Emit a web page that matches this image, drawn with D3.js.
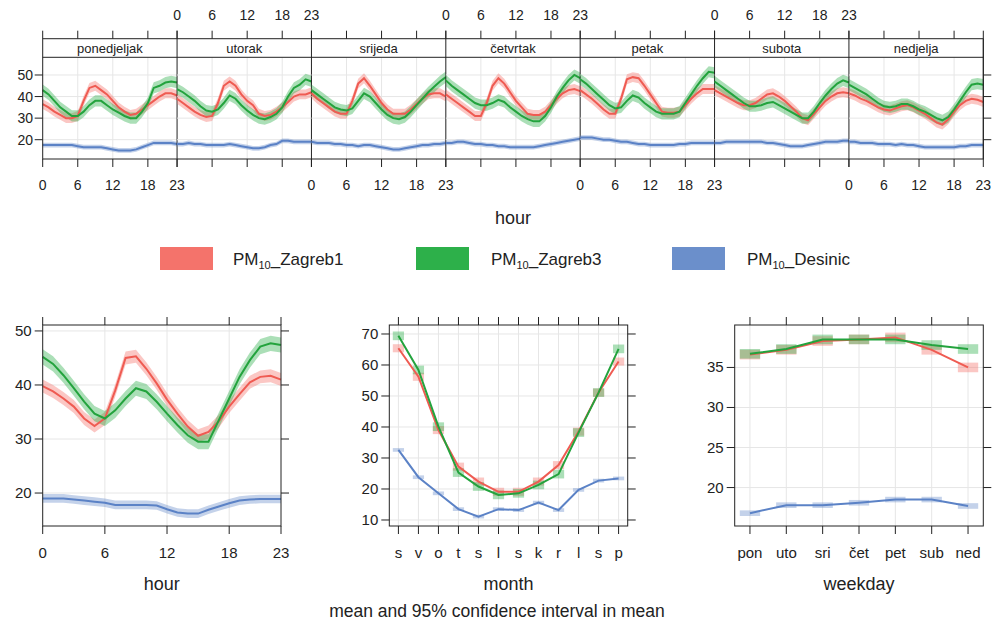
<!DOCTYPE html>
<html>
<head>
<meta charset="utf-8">
<script src="https://cdn.jsdelivr.net/npm/d3@7"></script>
<style>
  body { margin: 0; background: #fff; }
  svg { display: block; }
  text { font-family: "Liberation Sans", Arial, sans-serif; fill: #222; }
</style>
</head>
<body>
<div id="chart"></div>
<script>
// ---- data ----
const seriesNames = ['Zagreb1', 'Zagreb3', 'Desinic'];
const colors = ['#f4736b', '#2db04a', '#6b8fcb'];
const lineColors = ['#ef5b52', '#23a33d', '#5b82c6'];
const dayNames = ['ponedjeljak', 'utorak', 'srijeda', 'četvrtak', 'petak', 'subota', 'nedjelja'];
const dayShort = ['pon', 'uto', 'sri', 'čet', 'pet', 'sub', 'ned'];
const monthLabels = ['s', 'v', 'o', 't', 's', 'l', 's', 'k', 'r', 'l', 's', 'p'];
const hourTicks = [0, 6, 12, 18, 23];

// hour x weekday means, one row of 24 hours per day
const dayHourZagreb1 = [
  [36.5, 35, 33, 31.5, 30, 30, 31, 38, 44, 45, 43, 41, 38, 35, 33, 31.5, 32, 34, 36, 38, 40, 41.5, 41.5, 40.5],
  [39, 37, 35, 33, 31.5, 30.5, 31, 37, 45, 47, 45, 41, 38, 36, 32, 31, 31.5, 33, 35, 37.5, 40, 41, 41, 42],
  [41.5, 39, 37, 35, 33, 32, 32, 38, 46, 48.5, 45, 41, 37, 34, 32, 32, 32, 34, 36.5, 39, 41, 41.5, 41.5, 40],
  [41, 39, 37, 35, 33, 31, 31, 37, 45, 48.5, 46, 42, 38, 35, 32, 31.5, 31.5, 33, 36, 39, 41.5, 43, 43.5, 42.5],
  [43, 41, 39, 36.5, 34, 32, 32, 39, 48, 49, 48.5, 45, 41, 37, 33, 32.5, 32.5, 33, 36, 39, 41.5, 43.5, 43.5, 43.5],
  [43, 41.5, 40, 38.5, 37, 36, 36, 37, 39, 41, 41.5, 40, 38, 35.5, 33, 30, 29, 32, 35, 38, 40, 41.5, 42, 41.5],
  [41.5, 40.5, 39, 38, 36.5, 35, 34, 33.5, 34.5, 35.5, 36, 35, 33.5, 32, 30, 28, 27, 29.5, 33, 36, 38, 39, 38.5, 37.5]
];
const dayHourZagreb3 = [
  [43, 41, 38, 35, 33, 31, 31, 33, 36, 38, 38, 36, 34, 32.5, 31, 30, 30, 33, 37, 44, 45, 46.5, 47, 46.5],
  [43.5, 42, 40, 38, 35.5, 33.5, 33, 34, 37, 40.5, 39, 36, 33.5, 31.5, 30, 29.5, 30.5, 32, 35, 40, 44, 45.5, 48, 47],
  [43, 41, 39, 37, 35, 34, 33.5, 34.5, 38, 41.5, 40, 37, 34, 31.5, 30, 29.5, 30.5, 33, 36, 39, 42, 44.5, 47, 49],
  [47.5, 45, 43, 41, 39, 37, 36, 36, 37, 38.5, 37.5, 35, 33, 31, 29.5, 28.5, 28.5, 31, 35, 40, 44, 47.5, 50, 48.5],
  [48, 46, 43.5, 41, 38.5, 36, 34.5, 35, 38, 40.5, 39.5, 37, 35, 33, 32, 32, 32, 33, 37, 41, 45, 48.5, 51.5, 51],
  [47, 45, 43, 41, 39, 37, 35.5, 35.5, 36, 37, 37.5, 36, 34.5, 33, 31.5, 30, 30, 33, 37, 40.5, 43.5, 46, 47.5, 46.5],
  [45.5, 44, 42.5, 41, 39, 37, 35.5, 35, 35.5, 36.5, 36.5, 35.5, 34, 33, 31.5, 30, 29, 30.5, 34, 38, 42, 45.5, 46, 45.5]
];
const dayHourDesinic = [
  [17.5, 17.5, 17.5, 17.5, 17.5, 17.5, 17, 16.5, 16.5, 16.5, 16.5, 16, 15.5, 15, 15, 15, 15.5, 16.5, 17.5, 18.5, 18.5, 18.5, 18.5, 18],
  [18, 18, 18.5, 18, 18, 17.5, 17.5, 17.5, 17.5, 18, 17.5, 17, 16.5, 16, 16, 16.5, 17.5, 18, 19.5, 19.5, 19, 19, 19, 19],
  [19, 18.5, 18.5, 18.5, 18, 18, 17.5, 17.5, 17, 17.5, 17.5, 17, 16.5, 16, 15.5, 15.5, 16, 16.5, 17, 17.5, 17.5, 18, 18, 18.5],
  [18.5, 18.5, 19, 19, 18.5, 18, 18, 17.5, 17.5, 17, 17, 16.5, 16.5, 16.5, 16.5, 16.5, 17, 17.5, 18, 18.5, 19, 19.5, 20, 20.5],
  [21, 21, 21, 20.5, 20, 20, 19.5, 19, 19, 18.5, 18, 18, 17.5, 17.5, 17.5, 17.5, 17.5, 18, 18, 18.5, 18.5, 18.5, 18.5, 18.5],
  [18.5, 18.5, 19, 19, 19, 19, 19, 19, 19, 18.5, 18.5, 18, 17.5, 17, 17, 17, 17.5, 18, 18.5, 19, 19, 19, 19.5, 19.5],
  [19, 19, 18.5, 18.5, 18.5, 18, 18, 18, 17.5, 18, 17.5, 17.5, 17, 16.5, 16.5, 16.5, 16.5, 16.5, 16.5, 17, 17, 17.5, 17.5, 17.5]
];
const dayHourCI = [2.3, 2.6, 1.1];

// hourly means
const hourZagreb1 = [39.8, 38.8, 37.5, 36, 33.8, 32.4, 33.8, 39, 45, 45.3, 43, 40.3, 37.3, 34.7, 32.3, 30.6, 31.3, 33.3, 36, 38.3, 40.5, 41.5, 41.7, 41];
const hourZagreb3 = [45.2, 43.9, 41.8, 39.4, 36.9, 34.7, 33.8, 35.3, 37.5, 39.4, 38.8, 36.9, 34.7, 32.6, 30.7, 29.5, 29.5, 33.5, 37.5, 41.5, 44.6, 47.1, 47.7, 47.4];
const hourDesinic = [19, 19, 19, 18.8, 18.6, 18.4, 18.2, 17.8, 17.8, 17.8, 17.8, 17.7, 17, 16.4, 16.2, 16.2, 16.9, 17.5, 18.1, 18.6, 18.8, 18.9, 18.9, 18.9];
const hourCI = [1.2, 1.4, 0.8];

// monthly means
const monthZagreb1 = [65.4, 56.2, 39, 27.2, 22.4, 19.1, 19.1, 22.4, 27.7, 38.5, 51.1, 61.1];
const monthZagreb3 = [69.4, 58.4, 40.1, 25.3, 20.8, 18.1, 18.6, 21.3, 24.8, 38.2, 51.1, 65.2];
const monthDesinic = [32.6, 23.8, 18.6, 13.5, 11.1, 13.5, 13.2, 15.6, 13.2, 19.7, 22.7, 23.4];
const monthCI = [1.3, 1.4, 0.6];

// weekday means
const weekZagreb1 = [36.6, 37.2, 38.3, 38.5, 38.75, 37.2, 35.0];
const weekZagreb3 = [36.7, 37.3, 38.5, 38.5, 38.5, 37.8, 37.3];
const weekDesinic = [16.8, 17.8, 17.8, 18.1, 18.5, 18.5, 17.7];
const weekCI = [0.6, 0.6, 0.35];

// ---- drawing ----
const W = 995, H = 620;
const svg = d3.select('#chart').append('svg').attr('width', W).attr('height', H);
const grid = '#e6e6e6';
const tickLen = 8;

function fill(c) { return d3.color(c).copy({opacity: 0.4}).formatRgb(); }

// Top panel: hour by weekday
const topDays = [dayHourZagreb1, dayHourZagreb3, dayHourDesinic];
const tx0 = 42.7, tx1 = 983.3, pw = (tx1 - tx0) / 7;
const stripTop = 38.7, plotTop = 57.3, plotBot = 159;
const yTop = d3.scaleLinear().domain([11.05, 58.2]).range([plotBot, plotTop]);
const topG = svg.append('g');

dayNames.forEach((name, d) => {
  const x = d3.scaleLinear().domain([0, 23]).range([tx0 + d * pw, tx0 + (d + 1) * pw]);
  const g = topG.append('g');
  // grid
  g.selectAll('.vg').data([6, 12, 18]).enter().append('line')
    .attr('x1', x).attr('x2', x).attr('y1', plotTop).attr('y2', plotBot)
    .attr('stroke', grid);
  g.selectAll('.hg').data([20, 30, 40, 50]).enter().append('line')
    .attr('x1', x(0)).attr('x2', x(23)).attr('y1', yTop).attr('y2', yTop)
    .attr('stroke', grid);
  const hours = d3.range(24);
  topDays.forEach((rows, s) => {
    const area = d3.area().x(h => x(h))
      .y0(h => yTop(rows[d][h] - dayHourCI[s])).y1(h => yTop(rows[d][h] + dayHourCI[s]));
    g.append('path').attr('d', area(hours)).attr('fill', fill(colors[s]));
  });
  topDays.forEach((rows, s) => {
    const line = d3.line().x(h => x(h)).y(h => yTop(rows[d][h]));
    g.append('path').attr('d', line(hours)).attr('fill', 'none')
      .attr('stroke', lineColors[s]).attr('stroke-width', 2);
  });
  // ticks top & bottom
  hourTicks.forEach(t => {
    g.append('line').attr('x1', x(t)).attr('x2', x(t)).attr('y1', stripTop).attr('y2', stripTop - tickLen).attr('stroke', '#222');
    g.append('line').attr('x1', x(t)).attr('x2', x(t)).attr('y1', plotBot).attr('y2', plotBot + tickLen).attr('stroke', '#222');
    if (d % 2 === 1) {
      g.append('text').attr('x', x(t)).attr('y', 20).attr('text-anchor', 'middle').attr('font-size', 14).text(t);
    } else {
      g.append('text').attr('x', x(t)).attr('y', 190).attr('text-anchor', 'middle').attr('font-size', 14).text(t);
    }
  });
  // strip
  g.append('text').attr('x', (x(0) + x(23)) / 2).attr('y', 52.5).attr('text-anchor', 'middle')
    .attr('font-size', 13).text(name);
  g.append('line').attr('x1', x(23)).attr('x2', x(23)).attr('y1', stripTop).attr('y2', plotBot).attr('stroke', '#222');
});
topG.append('rect').attr('x', tx0).attr('y', stripTop).attr('width', tx1 - tx0).attr('height', plotBot - stripTop)
  .attr('fill', 'none').attr('stroke', '#222');
topG.append('line').attr('x1', tx0).attr('x2', tx1).attr('y1', plotTop).attr('y2', plotTop).attr('stroke', '#222');
[20, 30, 40, 50].forEach(v => {
  topG.append('line').attr('x1', tx0).attr('x2', tx0 - tickLen).attr('y1', yTop(v)).attr('y2', yTop(v)).attr('stroke', '#222');
  topG.append('line').attr('x1', tx1).attr('x2', tx1 + tickLen).attr('y1', yTop(v)).attr('y2', yTop(v)).attr('stroke', '#222');
  topG.append('text').attr('x', 33).attr('y', yTop(v) + 5).attr('text-anchor', 'end').attr('font-size', 14).text(v);
});
svg.append('text').attr('x', 513).attr('y', 224).attr('text-anchor', 'middle').attr('font-size', 18).text('hour');

// Legend
const legX = [160, 416, 672], legText = [233, 491, 747];
seriesNames.forEach((n, i) => {
  svg.append('rect').attr('x', legX[i]).attr('y', 247).attr('width', 53).attr('height', 23).attr('fill', colors[i]);
  const t = svg.append('text').attr('x', legText[i]).attr('y', 265).attr('font-size', 17);
  t.append('tspan').text('PM');
  t.append('tspan').attr('font-size', 11).attr('dy', 4).text('10');
  t.append('tspan').attr('dy', -4).text('_' + n);
});

// Generic bottom panel
function panel(opt) {
  const g = svg.append('g');
  const x = d3.scaleLinear().domain(opt.xd).range([opt.x0, opt.x1]);
  const y = d3.scaleLinear().domain(opt.yd).range([526, 325]);
  opt.xgrid.forEach(v => g.append('line').attr('x1', x(v)).attr('x2', x(v)).attr('y1', 325).attr('y2', 526).attr('stroke', grid));
  opt.yticks.forEach(v => g.append('line').attr('x1', opt.x0).attr('x2', opt.x1).attr('y1', y(v)).attr('y2', y(v)).attr('stroke', grid));
  opt.draw(g, x, y);
  g.append('rect').attr('x', opt.x0).attr('y', 325).attr('width', opt.x1 - opt.x0).attr('height', 201)
    .attr('fill', 'none').attr('stroke', '#222');
  opt.xticks.forEach((v, i) => {
    g.append('line').attr('x1', x(v)).attr('x2', x(v)).attr('y1', 526).attr('y2', 526 + tickLen).attr('stroke', '#222');
    g.append('line').attr('x1', x(v)).attr('x2', x(v)).attr('y1', 325).attr('y2', 325 - tickLen).attr('stroke', '#222');
    g.append('text').attr('x', x(v)).attr('y', 558).attr('text-anchor', 'middle').attr('font-size', 15).text(opt.xlabels[i]);
  });
  opt.yticks.forEach(v => {
    g.append('line').attr('x1', opt.x0).attr('x2', opt.x0 - tickLen).attr('y1', y(v)).attr('y2', y(v)).attr('stroke', '#222');
    g.append('line').attr('x1', opt.x1).attr('x2', opt.x1 + tickLen).attr('y1', y(v)).attr('y2', y(v)).attr('stroke', '#222');
    g.append('text').attr('x', opt.x0 - 11).attr('y', y(v) + 5).attr('text-anchor', 'end').attr('font-size', 15).text(v);
  });
  g.append('text').attr('x', (opt.x0 + opt.x1) / 2).attr('y', 590).attr('text-anchor', 'middle').attr('font-size', 18).text(opt.title);
}

// hour panel
const hourSeries = [hourZagreb1, hourZagreb3, hourDesinic];
panel({
  x0: 42.7, x1: 281, xd: [0, 23], yd: [13.9, 51.1],
  xticks: hourTicks, xlabels: hourTicks, xgrid: [6, 12, 18], yticks: [20, 30, 40, 50], title: 'hour',
  draw: (g, x, y) => {
    const hours = d3.range(24);
    hourSeries.forEach((vals, s) => {
      g.append('path').attr('fill', fill(colors[s]))
        .attr('d', d3.area().x(h => x(h)).y0(h => y(vals[h] - hourCI[s])).y1(h => y(vals[h] + hourCI[s]))(hours));
    });
    hourSeries.forEach((vals, s) => {
      g.append('path').attr('fill', 'none').attr('stroke', lineColors[s]).attr('stroke-width', 2)
        .attr('d', d3.line().x(h => x(h)).y(h => y(vals[h]))(hours));
    });
  }
});

// boxes + lines for month / weekday
function boxSeries(series, ci, halfW) {
  return (g, x, y) => {
    series.forEach((vals, s) => {
      g.selectAll(null).data(vals).enter().append('rect')
        .attr('x', (v, i) => x(i + 1 - halfW)).attr('width', (v, i) => x(i + 1 + halfW) - x(i + 1 - halfW))
        .attr('y', v => y(v + ci[s])).attr('height', v => y(v - ci[s]) - y(v + ci[s]))
        .attr('fill', fill(colors[s]));
    });
    series.forEach((vals, s) => {
      g.append('path').attr('fill', 'none').attr('stroke', lineColors[s]).attr('stroke-width', 2)
        .attr('d', d3.line().x((v, i) => x(i + 1)).y(v => y(v))(vals));
    });
  };
}

const months = d3.range(1, 13);
panel({
  x0: 389.3, x1: 627.7, xd: [0.545, 12.455], yd: [8.06, 72.9],
  xticks: months, xlabels: monthLabels, xgrid: months, yticks: [10, 20, 30, 40, 50, 60, 70], title: 'month',
  draw: boxSeries([monthZagreb1, monthZagreb3, monthDesinic], monthCI, 0.28)
});

const weekdays = d3.range(1, 8);
panel({
  x0: 734.7, x1: 983.3, xd: [0.58, 7.42], yd: [15.2, 40.3],
  xticks: weekdays, xlabels: dayShort, xgrid: weekdays, yticks: [20, 25, 30, 35], title: 'weekday',
  draw: boxSeries([weekZagreb1, weekZagreb3, weekDesinic], weekCI, 0.28)
});

svg.append('text').attr('x', 497).attr('y', 617).attr('text-anchor', 'middle').attr('font-size', 17.5)
  .text('mean and 95% confidence interval in mean');
</script>
</body>
</html>
